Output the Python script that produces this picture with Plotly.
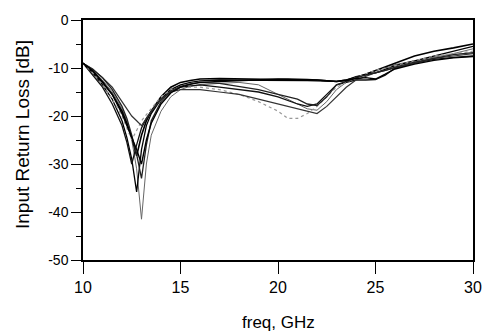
import plotly.graph_objects as go

freq = [10, 10.5, 11, 11.5, 12, 12.25, 12.5, 12.75, 13, 13.25, 13.5, 14, 14.5, 15, 15.5, 16,
        17, 18, 19, 20, 20.5, 21, 21.5, 22, 22.5, 23, 23.5, 24, 24.5, 25, 25.5, 26, 27, 28, 29, 30]

s11_a = [-9, -10.5, -12.5, -15, -18.5, -21, -25, -31, -41.5, -30, -24, -19, -16, -14.5, -13.8, -13.5,
         -13.2, -13, -13.5, -15.5, -16.5, -17.5, -18.5, -18.8, -17, -14.5, -13, -12, -11.2, -10.5, -10, -9.3, -8.5, -7.8, -7, -6]
s11_b = [-9, -11, -13.5, -16.5, -21, -24.5, -29, -35.8, -27, -22, -19.5, -16.5, -14.5, -13.5, -13, -12.7,
         -12.5, -12.5, -12.5, -12.5, -12.5, -12.6, -12.6, -12.7, -12.8, -12.8, -12.5, -11.8, -11.4, -11, -10.3, -9.5, -8.5, -7.5, -6.5, -5.5]
s11_c = [-9, -11.5, -14, -17.5, -22, -25.5, -30, -26, -22.5, -20.5, -19, -16.5, -15, -14, -13.7, -13.5,
         -14, -14.5, -15, -16, -16.8, -17.5, -18, -17.5, -15.5, -13.5, -13, -12.5, -12.5, -12.4, -11.5, -10, -9, -8.2, -7.8, -7.5]
s11_d = [-9, -10.8, -13, -15.5, -19, -21.5, -24.5, -28.3, -24, -21, -19, -16, -14, -13, -12.6, -12.3,
         -12.2, -12.3, -12.3, -12.4, -12.4, -12.5, -12.5, -12.5, -12.6, -12.8, -12.5, -12, -11.3, -10.5, -9.8, -9, -7.5, -6.5, -5.8, -5]
s11_e = [-9, -11, -13.5, -16.5, -20, -22.5, -25, -23, -21, -19.7, -18.5, -16, -14.5, -14, -14, -14,
         -14.5, -15.5, -17, -19, -20.5, -20.5, -19.5, -18, -16, -14, -13, -12, -11.2, -10.5, -10, -9.5, -8.5, -7.5, -7, -6.5]
s11_f = [-9, -10.2, -12, -14, -17, -18.5, -20, -21, -22, -20.5, -19, -16.5, -15, -14.5, -14.5, -14.5,
         -15, -15.5, -16.5, -17.5, -18, -18.5, -19, -19.5, -18, -16, -14, -12.5, -11.8, -11, -10.5, -10, -9, -8, -7.5, -7]
s11_g = [-9, -10.3, -12, -14.5, -18, -20.5, -24, -28, -33, -26, -21, -17, -14.8, -13.8, -13.3, -13,
         -13.2, -13.8, -14.5, -15.5, -16, -16.5, -17.5, -17.8, -16, -13.5, -12.8, -12, -11.5, -11, -10.5, -9.8, -8.8, -8, -7.2, -6.8]
s11_h = [-9, -10.6, -12.8, -15.5, -19.5, -22, -24.5, -27, -30, -25, -21.5, -17.5, -15.2, -14, -13.4, -13,
         -12.8, -12.6, -12.4, -12.3, -12.3, -12.3, -12.4, -12.5, -12.6, -12.8, -12.6, -12.2, -12, -12.3, -11.3, -10.2, -9.2, -8.4, -7.9, -7.6]

series = [
    (s11_a, "#666666", 1.0, "solid"),
    (s11_b, "#000000", 1.3, "solid"),
    (s11_c, "#111111", 1.3, "solid"),
    (s11_d, "#000000", 1.6, "solid"),
    (s11_e, "#999999", 1.2, "dot"),
    (s11_f, "#333333", 1.2, "solid"),
    (s11_g, "#222222", 1.3, "solid"),
    (s11_h, "#000000", 1.4, "solid"),
]

x_ticks = [10, 15, 20, 25, 30]
x_ticktext = ["10", "15", "20", "25", "30"]
y_ticks = [0, -10, -20, -30, -40, -50]
y_ticktext = ["0", "-10", "-20", "-30", "-40", "-50"]

fig = go.Figure()
for ys, col, w, dash in series:
    fig.add_trace(go.Scatter(x=freq, y=ys, mode="lines",
                             line=dict(color=col, width=w, dash=dash),
                             showlegend=False, hoverinfo="skip"))

fig.update_layout(
    width=494, height=336,
    margin=dict(l=83, r=20, t=13, b=76),
    paper_bgcolor="white", plot_bgcolor="white",
    font=dict(family="Liberation Sans, Arial, sans-serif", color="black"),
    xaxis=dict(range=[10, 30], tickvals=x_ticks, ticktext=x_ticktext,
               showgrid=False, zeroline=False, showline=True, linecolor="black",
               linewidth=1.5, mirror=True, ticks="outside", ticklen=12,
               tickcolor="black", tickwidth=1.2, tickfont=dict(size=16)),
    yaxis=dict(range=[-50, 0], tickvals=y_ticks, ticktext=y_ticktext,
               showgrid=False, zeroline=False, showline=True, linecolor="black",
               linewidth=1.5, mirror=True, ticks="outside", ticklen=10,
               tickcolor="black", tickwidth=1.2, tickfont=dict(size=14),
               minor=dict(tickvals=[-5, -15, -25, -35, -45], ticks="outside",
                          ticklen=5, tickcolor="black", tickwidth=1.2)),
    annotations=[
        dict(text="Input Return Loss [dB]", xref="paper", yref="paper",
             x=0, y=0.5, xanchor="center", yanchor="middle", xshift=-61, yshift=5,
             textangle=-90, showarrow=False, font=dict(size=19)),
        dict(text="freq, GHz", xref="paper", yref="paper",
             x=0.5, y=0, xanchor="center", yanchor="middle", yshift=-62,
             showarrow=False, font=dict(size=17)),
    ],
)

fig.write_html("out.html")
